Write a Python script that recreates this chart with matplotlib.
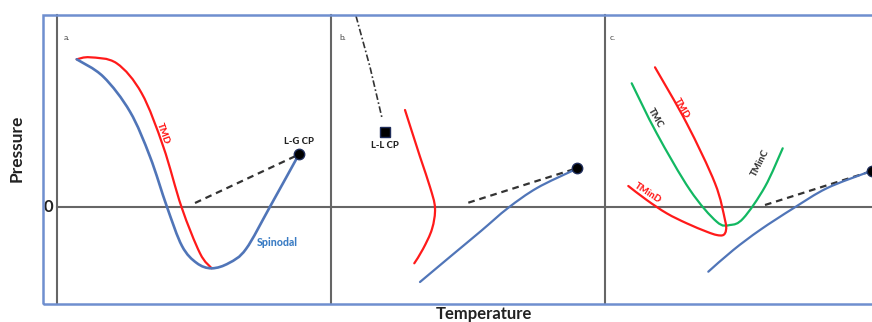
import numpy as np
import matplotlib
matplotlib.use("Agg")
import matplotlib.pyplot as plt
from matplotlib.patches import Rectangle, PathPatch
from matplotlib.path import Path

plt.rcParams['font.family'] = ['Lato', 'DejaVu Sans']

# schematic curves, (temperature, pressure) in arbitrary units, zero pressure at 0
# panel a: re-entrant spinodal
spin_a_T = [1.97, 4.63, 7.3, 9.3, 11.0, 12.5, 13.97, 15.47, 17.2, 18.9, 21.3, 24.1]
spin_a_P = [14.77, 13.03, 9.53, 5.03, 0.0, -3.9, -5.6, -6.13, -5.6, -4.2, 0.03, 5.1]
tmd_a_T = [1.97, 3.3, 5.97, 8.47, 10.63, 12.45, 14.3, 15.47]
tmd_a_P = [14.77, 14.97, 14.37, 11.37, 6.03, 0.0, -4.63, -6.13]
lg_a_T, lg_a_P = [13.8, 24.23], [0.4, 5.27]

# panel b: liquid-liquid critical point
llline_b_T = [2.5, 3.9, 5.1]
llline_b_P = [19.1, 14.0, 8.9]
llcp_b = (5.4, 7.5)
tmd_b_T = [7.4, 8.9, 9.9, 10.4, 10.1, 9.2, 8.33]
tmd_b_P = [9.7, 5.03, 2.0, -0.1, -2.2, -4.2, -5.63]
spin_b_T = [8.9, 12.0, 15.0, 17.7, 20.6, 24.2]
spin_b_P = [-7.5, -4.9, -2.4, -0.1, 1.9, 3.65]
lg_b_T, lg_b_P = [13.73, 24.57], [0.43, 3.87]

# panel c: singularity-free scenario
tmd_c_T = [5.0, 8.17, 11.0, 12.0, 12.1, 11.83, 11.17, 10.17, 8.17, 6.17, 4.17, 2.33]
tmd_c_P = [13.97, 8.37, 2.37, -1.3, -2.3, -2.8, -2.8, -2.47, -1.63, -0.63, 0.7, 2.1]
tmc_c_T = [2.67, 5.17, 8.5, 11.17, 12.5, 13.83, 16.0, 17.77]
tmc_c_P = [12.37, 7.37, 1.7, -1.47, -1.8, -1.13, 2.03, 5.87]
spin_c_T = [10.33, 12.83, 15.5, 18.83, 22.17, 26.2]
spin_c_P = [-6.47, -4.3, -2.3, -0.13, 1.87, 3.45]
lg_c_T, lg_c_P = [16.0, 26.7], [0.2, 3.6]

RED = '#ff1a1a'
BLUE = '#5075b8'
GREEN = '#12b862'
GRAY = '#666666'
FRAME = '#6f8fcf'
INK = '#222222'


def curve(ax, xs, ys, color, lw=1.6):
    # smooth line through the given points (Catmull-Rom as cubic Bezier segments)
    pts = np.column_stack([xs, ys]).astype(float)
    verts, codes = [pts[0]], [Path.MOVETO]
    n = len(pts)
    for i in range(n - 1):
        p0 = pts[max(i - 1, 0)]
        p1, p2 = pts[i], pts[i + 1]
        p3 = pts[min(i + 2, n - 1)]
        verts += [p1 + (p2 - p0) / 6, p2 - (p3 - p1) / 6, p2]
        codes += [Path.CURVE4] * 3
    ax.add_patch(PathPatch(Path(verts, codes), fill=False, edgecolor=color, lw=lw,
                           capstyle='round', joinstyle='round', zorder=3))


W, H = 872, 322
fig = plt.figure(figsize=(W / 100, H / 100), dpi=100)

axes = []
for i in range(3):
    ax = fig.add_axes([(57 + 274 * i) / W, 18 / H, 274 / W, 289 / H])
    ax.set_xlim(0, 27.4)
    ax.set_ylim(-9.7, 19.2)
    for s in ax.spines.values():
        s.set_visible(False)
    ax.set_xticks([])
    ax.set_yticks([])
    ax.patch.set_alpha(0)
    ax.axvline(0, color=GRAY, lw=1.5, zorder=1, clip_on=False)
    ax.axhline(0, color=GRAY, lw=1.5, zorder=1, clip_on=False)
    axes.append(ax)
axa, axb, axc = axes

dash = (0, (3, 2.2))
lbl = dict(fontsize=6.8, fontweight='black', ha='center', va='center')

# a.
curve(axa, tmd_a_T, tmd_a_P, RED)
curve(axa, spin_a_T, spin_a_P, BLUE, lw=1.9)
axa.plot(lg_a_T, lg_a_P, color='#333333', lw=1.6, ls=dash, zorder=2)
axa.plot(lg_a_T[-1], lg_a_P[-1], 'o', color='black', ms=7.5, mec='#1f2d5a', zorder=4)
axa.text(lg_a_T[-1], lg_a_P[-1] + 1.3, 'L-G CP', color=INK, **lbl)
axa.text(22.0, -3.5, 'Spinodal', color='#3a7cc4', **dict(lbl, fontsize=7.6))
axa.text(10.6, 7.3, 'TMD', color=RED, rotation=-70, **lbl)
axa.text(1.0, 17.0, 'a.', fontsize=6, color='#444444', ha='center', va='center')

# b.
axb.plot(llline_b_T, llline_b_P, color='#333333', lw=1.2, ls=(0, (4, 1.5, 1, 1.5)), zorder=2)
axb.plot(*llcp_b, 's', color='black', ms=7, mec='#1f2d5a', zorder=4)
axb.text(llcp_b[0], llcp_b[1] - 1.4, 'L-L CP', color=INK, **lbl)
curve(axb, tmd_b_T, tmd_b_P, RED)
curve(axb, spin_b_T, spin_b_P, BLUE)
axb.plot(lg_b_T, lg_b_P, color='#333333', lw=1.6, ls=dash, zorder=2)
axb.plot(lg_b_T[-1], lg_b_P[-1], 'o', color='black', ms=7.5, mec='#1f2d5a', zorder=4)
axb.text(1.2, 17.0, 'b.', fontsize=6, color='#444444', ha='center', va='center')

# c.
curve(axc, tmc_c_T, tmc_c_P, GREEN)
curve(axc, tmd_c_T, tmd_c_P, RED)
curve(axc, spin_c_T, spin_c_P, BLUE)
axc.plot(lg_c_T, lg_c_P, color='#333333', lw=1.6, ls=dash, zorder=2)
axc.plot(lg_c_T[-1], lg_c_P[-1], 'o', color='black', ms=7.5, mec='#1f2d5a',
         zorder=4, clip_on=False)
axc.text(7.7, 9.9, 'TMD', color=RED, rotation=-60, **lbl)
axc.text(5.0, 8.9, 'TMC', color='#333333', rotation=-60, **lbl)
axc.text(15.5, 4.4, 'TMinC', color='#333333', rotation=63, **lbl)
axc.text(4.3, 1.4, 'TMinD', color=RED, rotation=-33, **lbl)
axc.text(0.8, 17.0, 'c.', fontsize=6, color='#444444', ha='center', va='center')

# outer frame and shared labels
fig.patches.append(Rectangle((43 / W, 18 / H), 850 / W, 289 / H, transform=fig.transFigure,
                             fill=False, edgecolor=FRAME, lw=1.8, zorder=5))
fig.text(17 / W, 1 - 148 / H, 'Pressure', rotation=90, fontsize=12.5, fontweight='bold',
         ha='center', va='center', color=INK)
fig.text(48 / W, 1 - 207 / H, '0', fontsize=12, fontweight='bold',
         ha='center', va='center', color=INK)
fig.text(484 / W, 1 - 314 / H, 'Temperature', fontsize=12, fontweight='bold',
         ha='center', va='center', color=INK)

fig.savefig('out.png', dpi=100)
